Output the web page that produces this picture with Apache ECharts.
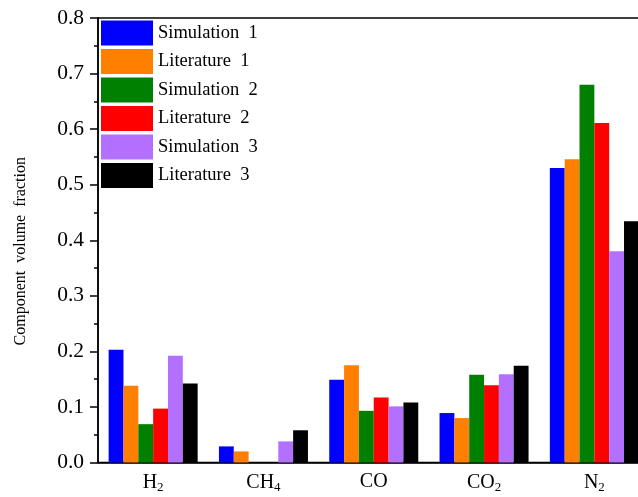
<!DOCTYPE html>
<html>
<head>
<meta charset="utf-8">
<script src="https://cdn.jsdelivr.net/npm/echarts@6/dist/echarts.min.js"></script>
<style>html,body{margin:0;padding:0;background:#fff;overflow:hidden;}#c{width:650px;height:497px;}</style>
</head>
<body>
<div id="c"></div>
<script>
const categories = ['{n|H}{s|2}', '{n|CH}{s|4}', '{n|CO}', '{n|CO}{s|2}', '{n|N}{s|2}'];
const seriesNames = ['Simulation  1', 'Literature  1', 'Simulation  2', 'Literature  2', 'Simulation  3', 'Literature  3'];
const simulation1 = [0.203, 0.029, 0.149, 0.089, 0.530];
const literature1 = [0.138, 0.020, 0.175, 0.080, 0.546];
const simulation2 = [0.069, 0, 0.093, 0.158, 0.680];
const literature2 = [0.097, 0, 0.117, 0.139, 0.611];
const simulation3 = [0.192, 0.038, 0.101, 0.159, 0.380];
const literature3 = [0.142, 0.058, 0.108, 0.174, 0.434];
const yTicks = [0, 0.8, 0.1];
const colors = ['#0000FF', '#FF8000', '#008000', '#FF0000', '#B370FF', '#000000'];

const allData = [simulation1, literature1, simulation2, literature2, simulation3, literature3];
const font = '"Liberation Serif", "Times New Roman", serif';

const chart = echarts.init(document.getElementById('c'));
chart.setOption({
  animation: false,
  textStyle: { fontFamily: font },
  grid: { left: 98, top: 18, right: 0.5, bottom: 34.5, show: true, borderColor: '#000', borderWidth: 1.5, backgroundColor: 'transparent' },
  legend: {
    orient: 'vertical', left: 101, top: 20.5, padding: 0, itemWidth: 52, itemHeight: 25, itemGap: 3.5,
    textStyle: { fontFamily: font, fontSize: 18.5, color: '#000' },
    data: seriesNames.map((n, i) => ({ name: n, icon: 'rect' }))
  },
  xAxis: {
    type: 'category', data: categories,
    axisLine: { lineStyle: { color: '#000', width: 1.5 } },
    axisTick: { show: false },
    axisLabel: {
      margin: 9,
      rich: {
        n: { fontFamily: font, fontSize: 20, color: '#000' },
        s: { fontFamily: font, fontSize: 13, color: '#000', padding: [10, 0, 0, 0] }
      }
    }
  },
  yAxis: {
    type: 'value', min: yTicks[0], max: yTicks[1], interval: yTicks[2],
    name: 'Component  volume  fraction', nameLocation: 'middle', nameGap: 69,
    nameTextStyle: { fontFamily: font, fontSize: 16, color: '#000', padding: [0, 22, 0, 0] },
    axisLine: { show: true, lineStyle: { color: '#000', width: 1.5 } },
    axisTick: { show: true, length: 8, lineStyle: { color: '#000', width: 1.5 } },
    minorTick: { show: true, splitNumber: 2, length: 4, lineStyle: { color: '#000', width: 1.5 } },
    splitLine: { show: false },
    axisLabel: { fontFamily: font, fontSize: 21.5, color: '#000', margin: 14, formatter: v => v.toFixed(1) }
  },
  series: seriesNames.map((n, i) => ({
    name: n, type: 'bar', data: allData[i], barGap: '0%', barCategoryGap: '19.3%',
    itemStyle: { color: colors[i] }
  }))
});
</script>
</body>
</html>
